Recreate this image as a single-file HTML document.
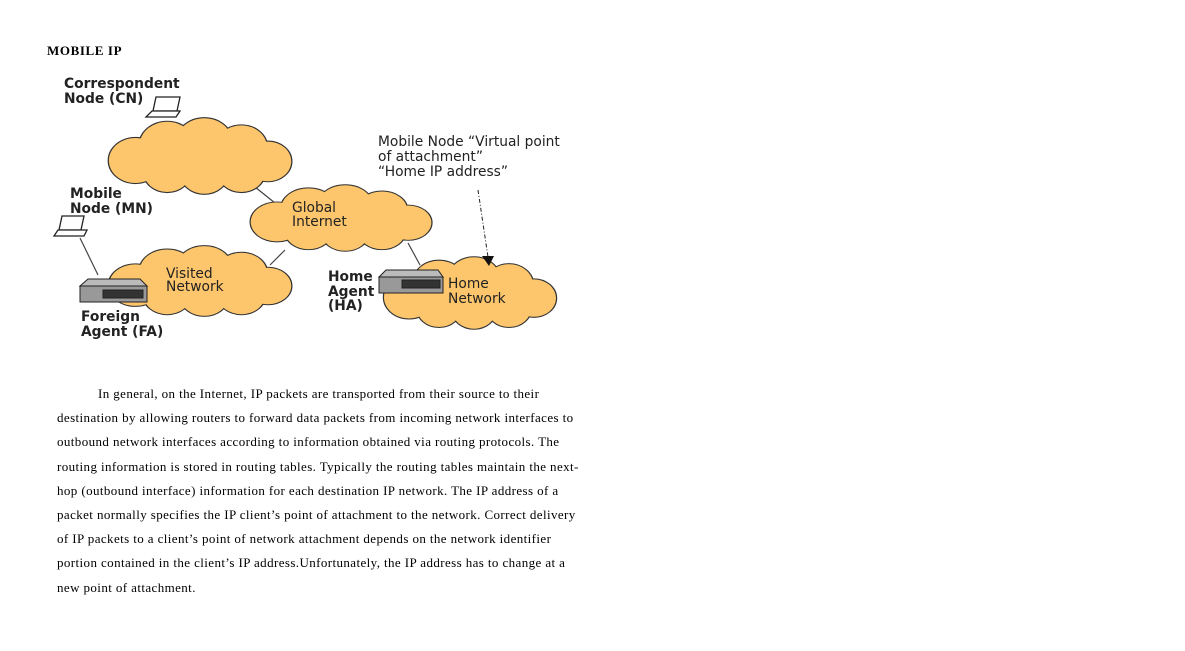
<!DOCTYPE html>
<html><head><style>
body{margin:0;width:1185px;height:651px;background:#fff;position:relative;overflow:hidden}
.t{position:absolute;font-family:"Liberation Serif",serif;font-size:13px;color:#000;white-space:nowrap;letter-spacing:0.4px}
svg{position:absolute;left:0;top:0}
</style></head><body>
<div class="t" style="left:47px;top:43px;font-weight:bold;font-size:13px;letter-spacing:0.6px">MOBILE IP</div>
<svg width="1185" height="651">
<defs>
<g id="cl">
<circle cx="-60" cy="5" r="25"/><circle cx="-30" cy="-12" r="26"/><circle cx="5" cy="-16" r="26"/><circle cx="40" cy="-10" r="24"/><circle cx="65" cy="6" r="22"/><circle cx="40" cy="18" r="22"/><circle cx="5" cy="20" r="22"/><circle cx="-30" cy="18" r="22"/><ellipse cx="0" cy="3" rx="75" ry="24"/>
</g>
</defs>
<g stroke="#444" stroke-width="1.2">
<line x1="250" y1="183" x2="275" y2="203"/><line x1="270" y1="265" x2="285" y2="250"/>
<line x1="408" y1="243" x2="420" y2="265"/><line x1="80" y1="238" x2="98" y2="275"/>
</g>
<g fill="#fdc66c">
<g transform="translate(199,156) scale(1.06,0.9)"><use href="#cl" stroke="#333" stroke-width="2.4"/><use href="#cl"/></g>
<g transform="translate(340,218) scale(1.05,0.78)"><use href="#cl" stroke="#333" stroke-width="2.4"/><use href="#cl"/></g>
<g transform="translate(199,281) scale(1.06,0.83)"><use href="#cl" stroke="#333" stroke-width="2.4"/><use href="#cl"/></g>
<g transform="translate(469,293) scale(1.0,0.85)"><use href="#cl" stroke="#333" stroke-width="2.4"/><use href="#cl"/></g>
</g>
<g stroke="#222" fill="#fff" stroke-width="1.3">
<path d="M156 97 L180 97 L177 111 L153 111 Z"/><path d="M146 117 L176 117 L180 111 L152 111 Z"/>
<path d="M62 216 L84 216 L81 230 L59 230 Z"/><path d="M54 236 L84 236 L87 230 L58 230 Z"/>
</g>
<g stroke="#222">
<path d="M80 286 L88 279 L140 279 L147 286 Z" fill="#bbb"/><rect x="80" y="286" width="67" height="16" fill="#999"/><rect x="103" y="290" width="40" height="8" fill="#333"/>
<path d="M379 277 L386 270 L438 270 L443 277 Z" fill="#bbb"/><rect x="379" y="277" width="64" height="16" fill="#999"/><rect x="402" y="280" width="38" height="8" fill="#333"/>
</g>
<line x1="478" y1="190" x2="488" y2="257" stroke="#222" stroke-dasharray="4,2,1,2"/>
<path d="M482 256 L494 256 L489 266 Z" fill="#111"/>
<g font-family="DejaVu Sans,sans-serif" font-size="13.8" fill="#222">
<text x="64" y="88" font-weight="bold">Correspondent</text><text x="64" y="103" font-weight="bold">Node (CN)</text>
<text x="70" y="198" font-weight="bold">Mobile</text><text x="70" y="213" font-weight="bold">Node (MN)</text>
<text x="81" y="321" font-weight="bold">Foreign</text><text x="81" y="336" font-weight="bold">Agent (FA)</text>
<text x="328" y="281" font-weight="bold">Home</text><text x="328" y="296" font-weight="bold">Agent</text><text x="328" y="310" font-weight="bold">(HA)</text>
<text x="292" y="212">Global</text><text x="292" y="226">Internet</text>
<text x="166" y="278">Visited</text><text x="166" y="291">Network</text>
<text x="448" y="288">Home</text><text x="448" y="303">Network</text>
<text x="378" y="146">Mobile Node “Virtual point</text><text x="378" y="161">of attachment”</text><text x="378" y="176">“Home IP address”</text>
</g>
</svg>
<div class="t" style="left:98px;top:386px">In general, on the Internet, IP packets are transported from their source to their</div>
<div class="t" style="left:57px;top:410px">destination by allowing routers to forward data packets from incoming network interfaces to</div>
<div class="t" style="left:57px;top:434px">outbound network interfaces according to information obtained via routing protocols. The</div>
<div class="t" style="left:57px;top:459px">routing information is stored in routing tables. Typically the routing tables maintain the next-</div>
<div class="t" style="left:57px;top:483px">hop (outbound interface) information for each destination IP network. The IP address of a</div>
<div class="t" style="left:57px;top:507px">packet normally specifies the IP client’s point of attachment to the network. Correct delivery</div>
<div class="t" style="left:57px;top:531px">of IP packets to a client’s point of network attachment depends on the network identifier</div>
<div class="t" style="left:57px;top:555px">portion contained in the client’s IP address.Unfortunately, the IP address has to change at a</div>
<div class="t" style="left:57px;top:580px">new point of attachment.</div>
</body></html>
